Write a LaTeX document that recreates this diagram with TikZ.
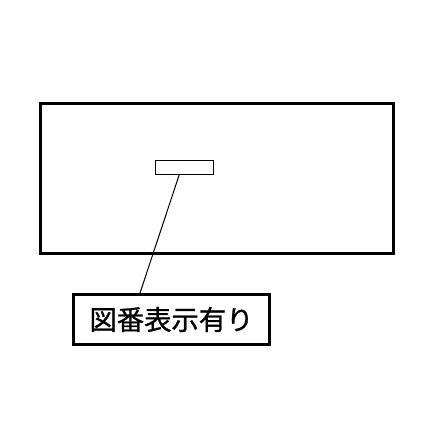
\documentclass[tikz,border=0pt]{standalone}
\usepackage{fontspec}
\newfontfamily\jpfont[FakeBold=1]{Noto Sans CJK JP}
\begin{document}
\begin{tikzpicture}[x=0.75pt, y=-0.75pt]

\def\thickline{2.25pt};
\def\thinline{0.75pt};
\tikzset{sheet frame/.style={
    rectangle,
    draw,
    line width=\thickline,
    minimum width=264.75pt,
    minimum height=112.5pt,
    inner sep=0
}};
\tikzset{number tag/.style={
    rectangle,
    draw,
    line width=\thinline,
    minimum width=43.5pt,
    minimum height=10.5pt,
    inner sep=0
}};
\tikzset{label box/.style={
    rectangle,
    draw,
    line width=\thickline,
    font=\jpfont\fontsize{20.5}{23}\selectfont,
    minimum width=147pt,
    minimum height=37.5pt,
    inner sep=0
}};

\useasboundingbox (0,0) rectangle (430,430);

\node[sheet frame] (sheet) at (217,178.5) {};
\node[number tag] (tag) at (184.5,167.5) {};
\node[label box] (note) at (171.5,319.5) {\raisebox{-2pt}{図番表示有り}\hspace{3pt}};

\draw[line width=\thinline] ([xshift=-4pt]tag.south) -- ([xshift=51pt]note.north west);
\end{tikzpicture}
\end{document}
